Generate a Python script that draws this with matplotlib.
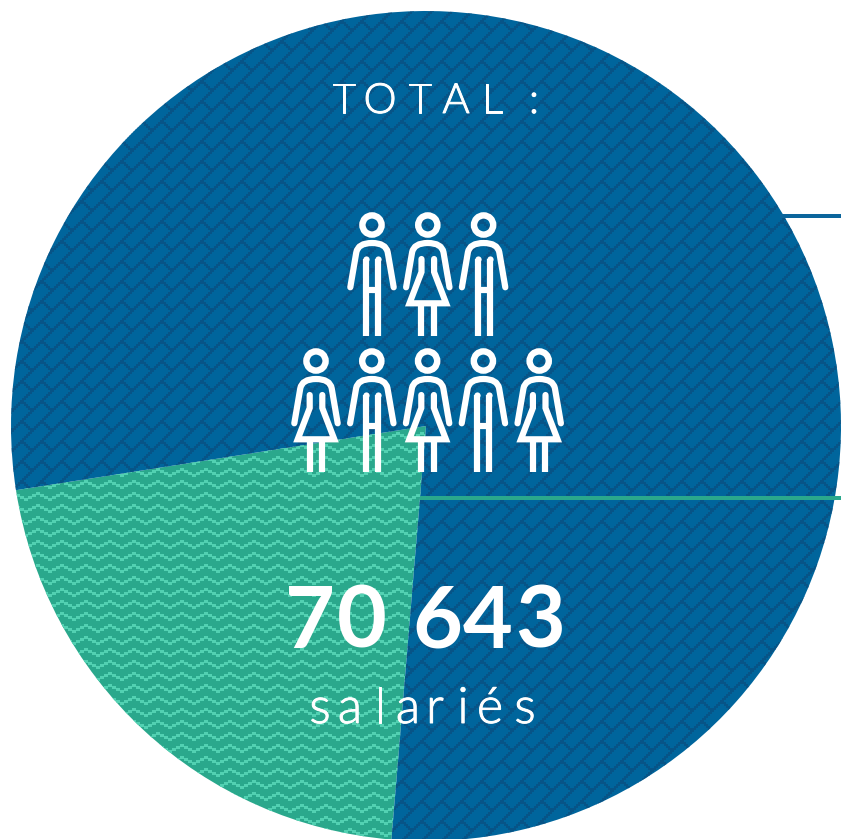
import matplotlib
matplotlib.use("Agg")
import matplotlib.pyplot as plt
import numpy as np
import matplotlib.patheffects as pe
from matplotlib.path import Path
from matplotlib.patches import PathPatch, Circle

W, H = 841, 839

# parts of the total
shares = [21.2, 78.8]
share_colors = ["#2aa88c", "#00659c"]

total_label = "TOTAL :"
total_xs = [344, 380, 420, 456, 492, 534]
count_label = "70 643"
count_xs = [310, 362, 437, 488, 540]
unit_label = "salariés"
unit_xs = [320, 350, 380, 408, 435, 463, 490, 525]

top_row = ["m", "f", "m"]
bottom_row = ["f", "m", "f", "m", "f"]


def py(y):
    # picture y (downwards) to axes y
    return H - y


def zigzag_texture(color):
    X, Y = np.meshgrid(np.arange(W), np.arange(H))
    xs = (X // 4) * 4
    phase = (xs % 24) / 24
    tri = np.abs(phase - 0.5) * 2 * 6
    offs = np.round(tri / 2) * 2
    mask = (Y - offs) % 12 < 3
    out = np.zeros((H, W, 4))
    out[..., :3] = matplotlib.colors.to_rgb(color)
    out[..., 3] = mask
    return out


def brick_texture(color):
    X, Y = np.meshgrid(np.arange(W), np.arange(H))
    bx = (X // 2) * 2
    by = (Y // 2) * 2
    u = bx + by
    v = bx - by
    row = np.floor(u / 20)
    along = (v + row * 20) % 40
    mask = (u % 20 < 3) | (along < 3)
    out = np.zeros((H, W, 4))
    out[..., :3] = matplotlib.colors.to_rgb(color)
    out[..., 3] = mask * 0.65
    return out


def draw_person(ax, cx, cy, kind):
    lw = 6.2 * 0.72
    c = "white"
    ax.add_patch(Circle((cx, py(cy)), 9.6, fill=False, ec=c, lw=6.4 * 0.72, zorder=6))
    verts = [(-21.7, 62.3), (-15.7, 27.3), (-14, 18), (0, 18), (14, 18), (15.7, 27.3), (21.7, 62.3)]
    codes = [Path.MOVETO, Path.LINETO, Path.CURVE3, Path.CURVE3, Path.CURVE3, Path.CURVE3, Path.LINETO]
    body = Path([(cx + x, py(cy + y)) for x, y in verts], codes)
    ax.add_patch(PathPatch(body, fill=False, ec=c, lw=lw, capstyle="round", joinstyle="round", zorder=6))
    if kind == "m":
        for s in (-1, 1):
            ax.plot([cx + s * 6, cx + s * 6], [py(cy + 34), py(cy + 110.7)], color=c, lw=lw,
                    solid_capstyle="butt", zorder=6)
            ax.plot(cx + s * 6, py(cy + 34), "o", ms=lw, color=c, mew=0, zorder=6)
        ax.plot([cx - 6, cx + 6], [py(cy + 65), py(cy + 65)], color=c, lw=lw, zorder=6, solid_capstyle="butt")
    else:
        dress = [(-6.3, 34), (-6.3, 47), (-18.3, 78.3), (18.3, 78.3), (6.3, 47), (6.3, 34)]
        ax.plot([cx + x for x, y in dress], [py(cy + y) for x, y in dress], color=c, lw=lw,
                solid_capstyle="round", solid_joinstyle="miter", zorder=6)
        for s in (-1, 1):
            ax.plot([cx + s * 6.3, cx + s * 6.3], [py(cy + 78), py(cy + 110.7)], color=c, lw=lw,
                    solid_capstyle="butt", zorder=6)


fig = plt.figure(figsize=(W / 100, H / 100), dpi=100)
ax = fig.add_axes([0, 0, 1, 1])
wedges, _ = ax.pie(shares, colors=share_colors, startangle=188.9, center=(426, py(426)),
                   radius=415, frame=True, wedgeprops={"linewidth": 0})

green_tex = ax.imshow(zigzag_texture("#52d1b2"), extent=(0, W, 0, H), origin="upper",
                      interpolation="nearest", aspect="auto", zorder=2)
green_tex.set_clip_path(wedges[0])
blue_tex = ax.imshow(brick_texture("#0c4c7c"), extent=(0, W, 0, H), origin="upper",
                     interpolation="nearest", aspect="auto", zorder=2)
blue_tex.set_clip_path(wedges[1])

ax.set_xlim(0, W)
ax.set_ylim(0, H)
ax.set_aspect("auto")
ax.axis("off")

# leader lines going off to the right
ax.plot([780, W], [py(215.5), py(215.5)], color="#0b659c", lw=4 * 0.72, zorder=3, solid_capstyle="butt")
ax.plot([420, W], [py(497.5), py(497.5)], color="#2aa88c", lw=4 * 0.72, zorder=3, solid_capstyle="butt")

for i, kind in enumerate(top_row):
    draw_person(ax, 372 + i * 55.8, 225, kind)
for i, kind in enumerate(bottom_row):
    draw_person(ax, 316 + i * 55.8, 361, kind)

thicker = [pe.withStroke(linewidth=0.7, foreground="white")]
for ch, x in zip(total_label.replace(" ", ""), total_xs):
    ax.text(x, py(113), ch, color="white", family="Lato", weight=300, fontsize=30,
            ha="center", va="baseline", zorder=7, path_effects=thicker)
for ch, x in zip(count_label.replace(" ", ""), count_xs):
    ax.text(x, py(648), ch, color="white", family="Lato", weight="bold", fontsize=62,
            ha="center", va="baseline", zorder=7)
for ch, x in zip(unit_label, unit_xs):
    ax.text(x, py(723), ch, color="white", family="Lato", weight=300, fontsize=36,
            ha="center", va="baseline", zorder=7, path_effects=thicker)

fig.savefig("out.png", dpi=100)
